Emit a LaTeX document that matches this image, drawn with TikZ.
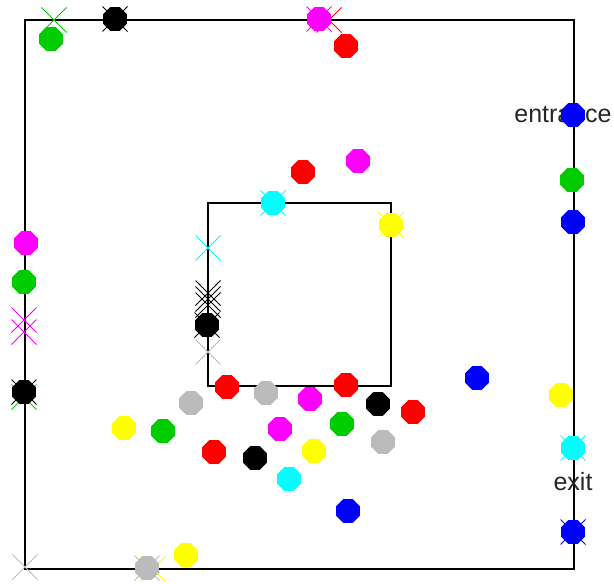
\documentclass[tikz,border=0pt]{standalone}
\usepackage{fontspec}
\setmainfont{Liberation Sans}
\usetikzlibrary{shapes.geometric}
\definecolor{pgreen}{HTML}{00CC00}
\definecolor{pgray}{HTML}{BBBBBB}
\definecolor{pmagenta}{HTML}{FF00FF}
\definecolor{pcyan}{HTML}{00FFFF}
\definecolor{pyellow}{HTML}{FFFF00}
\definecolor{pred}{HTML}{FF0000}
\definecolor{pblue}{HTML}{0000FF}
\tikzset{
  agent/.style={regular polygon, regular polygon sides=8, minimum size=12.8pt, inner sep=0pt, draw=none},
  mark/.pic={\draw[line width=0.5pt] (-12.5,-12.5) -- (12.5,12.5) (-12.5,12.5) -- (12.5,-12.5);},
  door/.style={font=\fontsize{12.5pt}{14pt}\selectfont, text=black!85, inner sep=0pt}
}
\begin{document}
\begin{tikzpicture}[x=0.5pt,y=-0.5pt]
\useasboundingbox (0,0) rectangle (614,583);

% walls
\draw[line width=1pt] (25,20) rectangle (574,569);
\draw[line width=1pt] (208,203) rectangle (391,386);

% labels
\node[door] (entrance) at (563,115) {entrance};
\node[door] (exit) at (573,482) {exit};

% crosses
\pic[pgreen] at (54,20) {mark};
\pic[black] at (115,19) {mark};
\pic[pmagenta] at (319,19) {mark};
\pic[pred] at (329,20) {mark};
\pic[pmagenta] at (24,320) {mark};
\pic[pmagenta] at (24,332) {mark};
\pic[black] at (24,392) {mark};
\pic[pgreen] at (24,397) {mark};
\pic[pgray] at (25,567) {mark};
\pic[pgray] at (147,568) {mark};
\pic[pyellow] at (153,569) {mark};
\pic[pcyan] at (273,203) {mark};
\pic[pcyan] at (208,248) {mark};
\pic[black] at (208,293) {mark};
\pic[black] at (208,299) {mark};
\pic[black] at (208,305) {mark};
\pic[black] at (207,325) {mark};
\pic[pgray] at (208,352) {mark};
\pic[pyellow] at (391,225) {mark};
\pic[pcyan] at (573,448) {mark};
\pic[pblue] at (573,532) {mark};

% agents on the walls
\node[agent, fill=pgreen] (g1) at (51,39) {};
\node[agent, fill=black] (k1) at (115,19) {};
\node[agent, fill=pmagenta] (m1) at (319,19) {};
\node[agent, fill=pred] (r1) at (346,46) {};
\node[agent, fill=pmagenta] (m2) at (26,243) {};
\node[agent, fill=pgreen] (g2) at (24,282) {};
\node[agent, fill=black] (k2) at (24,392) {};
\node[agent, fill=pgray] (s1) at (147,568) {};
\node[agent, fill=pyellow] (y1) at (186,555) {};
\node[agent, fill=pblue] (b1) at (573,115) {};
\node[agent, fill=pgreen] (g3) at (572,180) {};
\node[agent, fill=pblue] (b2) at (573,222) {};
\node[agent, fill=pyellow] (y2) at (561,395) {};
\node[agent, fill=pcyan] (c1) at (573,448) {};
\node[agent, fill=pblue] (b3) at (573,532) {};

% agents round the pillar
\node[agent, fill=pred] (r2) at (303,172) {};
\node[agent, fill=pmagenta] (m3) at (358,161) {};
\node[agent, fill=pcyan] (c2) at (273,203) {};
\node[agent, fill=pyellow] (y3) at (391,225) {};
\node[agent, fill=black] (k3) at (207,325) {};
\node[agent, fill=pred] (r3) at (227,387) {};
\node[agent, fill=pgray] (s2) at (266,393) {};
\node[agent, fill=pred] (r4) at (346,385) {};
\node[agent, fill=pblue] (b4) at (477,378) {};

% crowd below
\node[agent, fill=pgray] (s3) at (191,403) {};
\node[agent, fill=pmagenta] (m4) at (310,399) {};
\node[agent, fill=black] (k4) at (378,404) {};
\node[agent, fill=pred] (r5) at (413,412) {};
\node[agent, fill=pyellow] (y4) at (124,428) {};
\node[agent, fill=pgreen] (g4) at (163,431) {};
\node[agent, fill=pmagenta] (m5) at (280,429) {};
\node[agent, fill=pgreen] (g5) at (342,424) {};
\node[agent, fill=pgray] (s4) at (383,442) {};
\node[agent, fill=pred] (r6) at (214,452) {};
\node[agent, fill=black] (k5) at (255,458) {};
\node[agent, fill=pyellow] (y5) at (314,451) {};
\node[agent, fill=pcyan] (c3) at (289,479) {};
\node[agent, fill=pblue] (b5) at (348,511) {};
\end{tikzpicture}
\end{document}
